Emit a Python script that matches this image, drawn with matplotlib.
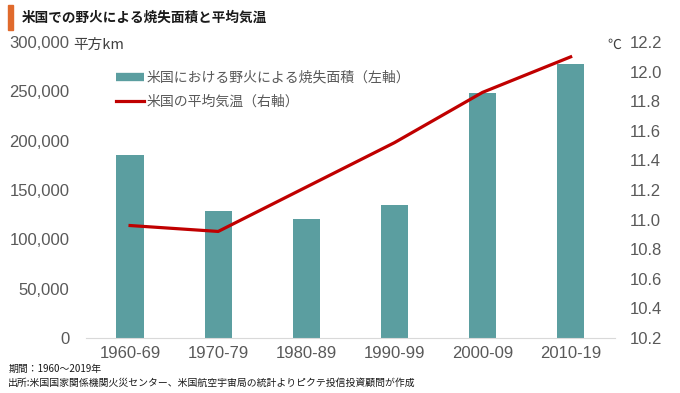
import numpy as np
import matplotlib.pyplot as plt
from matplotlib.patches import Rectangle
from matplotlib.lines import Line2D
from matplotlib.ticker import FuncFormatter

plt.rcParams['font.family'] = ['Liberation Sans', 'Noto Sans CJK JP', 'DejaVu Sans']
jp = ['Noto Sans CJK JP', 'DejaVu Sans']

decades = ['1960-69', '1970-79', '1980-89', '1990-99', '2000-09', '2010-19']
area_km2 = [185000, 129000, 120500, 135000, 248000, 277500]
temp_c = [10.96, 10.92, 11.22, 11.52, 11.86, 12.10]

bar_color = '#5B9EA0'
line_color = '#C00000'
gray = '#595959'

fig = plt.figure(figsize=(6.8, 3.93), dpi=100)
ax = fig.add_axes([0.1265, 0.140, 0.7775, 0.753])
x = np.arange(len(decades))

ax.bar(x, area_km2, width=0.31, color=bar_color, zorder=2)
ax.set_xlim(-0.5, 5.5)
ax.set_ylim(0, 300000)
ax.set_yticks(np.arange(0, 300001, 50000))
ax.yaxis.set_major_formatter(FuncFormatter(lambda v, p: f'{int(v):,}'))
ax.set_xticks(x)
ax.set_xticklabels(decades)
for s in ['top', 'left', 'right']:
    ax.spines[s].set_visible(False)
ax.spines['bottom'].set_color('#D9D9D9')
ax.tick_params(axis='both', length=0, colors=gray, labelsize=12)
ax.tick_params(axis='x', pad=6)
ax.tick_params(axis='y', pad=12)

ax2 = ax.twinx()
ax2.plot(x, temp_c, color=line_color, lw=2.3, zorder=3)
ax2.set_ylim(10.2, 12.2)
ax2.set_yticks(np.round(np.arange(10.2, 12.21, 0.2), 1))
ax2.yaxis.set_major_formatter(FuncFormatter(lambda v, p: f'{v:.1f}'))
for s in ['top', 'left', 'right', 'bottom']:
    ax2.spines[s].set_visible(False)
ax2.tick_params(axis='y', length=0, colors=gray, labelsize=12, pad=11)

handles = [Line2D([], [], color=bar_color, lw=6, solid_capstyle='butt'),
           Line2D([], [], color=line_color, lw=2.3)]
labels = ['米国における野火による焼失面積（左軸）', '米国の平均気温（右軸）']
leg = fig.legend(handles, labels, loc='upper left', bbox_to_anchor=(0.163, 0.835),
                 frameon=False, prop={'family': jp, 'size': 10}, handlelength=2.0,
                 handletextpad=0.2, labelspacing=0.75, borderaxespad=0)
for t in leg.get_texts():
    t.set_color(gray)

fig.text(0.107, 0.885, '平方km', fontsize=10.5, color='#404040', va='center', family=jp)
fig.text(0.893, 0.885, '℃', fontsize=10, color='#404040', va='center', family=jp)

fig.patches.append(Rectangle((0.012, 0.924), 0.007, 0.063, transform=fig.transFigure,
                             color='#E06A2C'))
fig.text(0.032, 0.955, '米国での野火による焼失面積と平均気温', fontsize=9.8, weight='bold',
         color='#1A1A1A', va='center', family=jp)

fig.text(0.012, 0.060, '期間：1960～2019年', fontsize=7.1, color='#1A1A1A', va='center', family=jp)
fig.text(0.012, 0.027, '出所:米国国家関係機関火災センター、米国航空宇宙局の統計よりピクテ投信投資顧問が作成',
         fontsize=7.1, color='#1A1A1A', va='center', family=jp)

fig.savefig('out.png', dpi=100)
